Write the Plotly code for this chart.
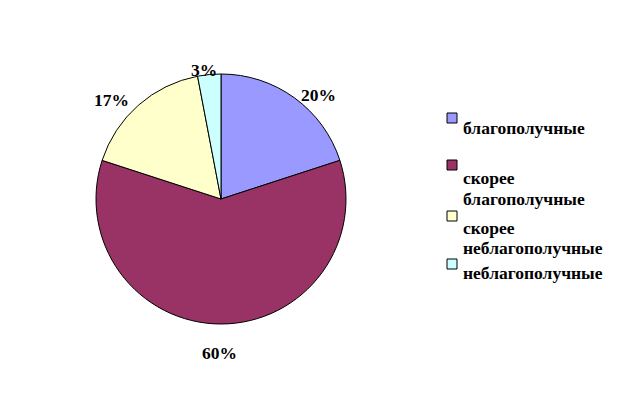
import math
import plotly.graph_objects as go

categories = ["благополучные", "скорее благополучные", "скорее неблагополучные", "неблагополучные"]
legend_lines = [["благополучные"], ["скорее", "благополучные"], ["скорее", "неблагополучные"], ["неблагополучные"]]
values = [20, 60, 17, 3]
colors = ["#9999FF", "#993366", "#FFFFCC", "#CCFFFF"]

W, H = 621, 402
cx, cy, R = 221, 199, 125
# small pixel nudges of the percentage labels (dx, dy), in label order
label_nudges = [(8, 17), (-2, 3), (-7, 13), (-3, 21)]

fig = go.Figure(go.Pie(
    labels=categories, values=values, sort=False, direction="clockwise", rotation=0,
    marker=dict(colors=colors, line=dict(color="#000000", width=1)),
    textinfo="none", hoverinfo="label+percent", showlegend=False,
    domain=dict(x=[(cx - R) / W, (cx + R) / W], y=[(H - cy - R) / H, (H - cy + R) / H]),
))

font = dict(family="Liberation Serif", size=17.5, color="#000000")
total = sum(values)
cum = 0
annotations = []
for v, (nx, ny) in zip(values, label_nudges):
    mid = (cum + v / 2) / total * 2 * math.pi
    cum += v
    dx, dy = math.sin(mid), math.cos(mid)
    r = R + 18
    px = cx + dx * (r + 17 * abs(dx)) + nx
    py = cy - dy * (r + 8 * abs(dy)) + ny
    annotations.append(dict(x=px / W, y=1 - py / H, xref="paper", yref="paper",
                            text=f"<b>{round(v / total * 100)}%</b>", showarrow=False,
                            font=font, xanchor="center", yanchor="middle"))

shapes = []
sq_top = [113, 160, 211, 259]
text_y = [[128], [178, 199], [228, 248], [273]]
for i, lines in enumerate(legend_lines):
    y0 = sq_top[i]
    shapes.append(dict(type="rect", xref="paper", yref="paper",
                       x0=447 / W, x1=457 / W, y0=1 - (y0 + 10) / H, y1=1 - y0 / H,
                       fillcolor=colors[i], line=dict(color="#000000", width=1)))
    for ln, ty in zip(lines, text_y[i]):
        annotations.append(dict(x=461 / W, y=1 - ty / H, xref="paper", yref="paper",
                                text=f"<b>{ln}</b>", showarrow=False, font=font,
                                xanchor="left", yanchor="middle"))

fig.update_layout(width=W, height=H, margin=dict(l=0, r=0, t=0, b=0),
                  paper_bgcolor="#FFFFFF", plot_bgcolor="#FFFFFF",
                  annotations=annotations, shapes=shapes)
fig.write_html("out.html", config={"displayModeBar": False},
               post_script="document.body.style.margin='0px';document.body.style.overflow='hidden';")
